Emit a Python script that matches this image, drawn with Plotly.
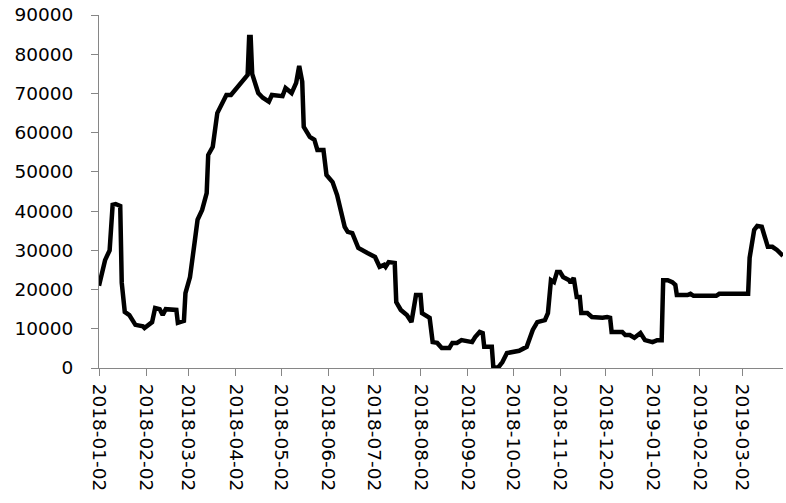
import plotly.graph_objects as go

dates = [
    "2018-01-02", "2018-01-06", "2018-01-09", "2018-01-11", "2018-01-13", "2018-01-16",
    "2018-01-17", "2018-01-19", "2018-01-22", "2018-01-26", "2018-01-31", "2018-02-01",
    "2018-02-06", "2018-02-08", "2018-02-11", "2018-02-13", "2018-02-15", "2018-02-22",
    "2018-02-23", "2018-02-27", "2018-02-28", "2018-03-03", "2018-03-06", "2018-03-08",
    "2018-03-11", "2018-03-14", "2018-03-15", "2018-03-18", "2018-03-21", "2018-03-24",
    "2018-03-27", "2018-03-30", "2018-04-03", "2018-04-08", "2018-04-10", "2018-04-11",
    "2018-04-12", "2018-04-13", "2018-04-15", "2018-04-17", "2018-04-20", "2018-04-24",
    "2018-04-26", "2018-05-03", "2018-05-05", "2018-05-09", "2018-05-12", "2018-05-14",
    "2018-05-16", "2018-05-17", "2018-05-21", "2018-05-24", "2018-05-26", "2018-05-30",
    "2018-06-01", "2018-06-05", "2018-06-08", "2018-06-10", "2018-06-13", "2018-06-15",
    "2018-06-18", "2018-06-22", "2018-06-25", "2018-06-28", "2018-07-03", "2018-07-06",
    "2018-07-09", "2018-07-10", "2018-07-12", "2018-07-16", "2018-07-17", "2018-07-20",
    "2018-07-24", "2018-07-27", "2018-07-30", "2018-08-02", "2018-08-03", "2018-08-08",
    "2018-08-10", "2018-08-13", "2018-08-16", "2018-08-21", "2018-08-23", "2018-08-26",
    "2018-08-29", "2018-09-05", "2018-09-07", "2018-09-10", "2018-09-12", "2018-09-13",
    "2018-09-18", "2018-09-19", "2018-09-22", "2018-09-25", "2018-09-28", "2018-10-06",
    "2018-10-11", "2018-10-15", "2018-10-18", "2018-10-23", "2018-10-25", "2018-10-27",
    "2018-10-29", "2018-10-31", "2018-11-02", "2018-11-04", "2018-11-08", "2018-11-09",
    "2018-11-11", "2018-11-13", "2018-11-15", "2018-11-16", "2018-11-20", "2018-11-23",
    "2018-11-30", "2018-12-03", "2018-12-05", "2018-12-06", "2018-12-13", "2018-12-15",
    "2018-12-18", "2018-12-21", "2018-12-25", "2018-12-28", "2019-01-02", "2019-01-05",
    "2019-01-08", "2019-01-09", "2019-01-12", "2019-01-15", "2019-01-17", "2019-01-18",
    "2019-01-25", "2019-01-27", "2019-01-29", "2019-02-13", "2019-02-15", "2019-03-06",
    "2019-03-07", "2019-03-10", "2019-03-12", "2019-03-15", "2019-03-19", "2019-03-22",
    "2019-03-25", "2019-03-29",
]
values = [
    21000, 27500, 30000, 41600, 41800, 41300,
    21700, 14300, 13500, 11000, 10600, 10200,
    11700, 15300, 15000, 13500, 15000, 14800,
    11500, 12000, 19100, 23200, 31900, 37800,
    40300, 44600, 54300, 56400, 65000, 67600,
    69600, 69600, 71400, 74000, 74700, 84400,
    84400, 75000, 72700, 70100, 68900, 67900,
    69600, 69300, 71400, 70100, 72700, 77000,
    73000, 61500, 58900, 58200, 55600, 55600,
    49200, 47400, 44100, 41100, 36000, 34700,
    34400, 30600, 30100, 29300, 28300, 25800,
    26300, 25800, 27000, 26800, 16800, 14800,
    13500, 11700, 18600, 18600, 14000, 12800,
    6600, 6400, 5100, 5100, 6400, 6400,
    7100, 6600, 7900, 9200, 8900, 5400,
    5400, 300, 0, 1500, 3800, 4400,
    5400, 9700, 11700, 12200, 14000, 22400,
    21900, 24500, 24500, 23200, 22400, 21700,
    23000, 18100, 18100, 14000, 14000, 13000,
    12800, 13000, 12800, 9200, 9200, 8400,
    8400, 7700, 8900, 7100, 6600, 7100,
    7100, 22400, 22400, 21900, 21200, 18600,
    18600, 18900, 18400, 18400, 18900, 18900,
    28100, 35200, 36200, 36000, 30900, 30900,
    30100, 28600,
]

x_range = ["2018-01-02", "2019-03-29"]
y_ticks = [0, 10000, 20000, 30000, 40000, 50000, 60000, 70000, 80000, 90000]

fig = go.Figure(
    go.Scatter(
        x=dates, y=values, mode="lines",
        line=dict(color="#000000", width=4.5),
        hoverinfo="x+y",
    )
)

axis_grey = "#868686"
font = dict(family="DejaVu Sans", size=18.5, color="#000000")

fig.update_layout(
    width=786, height=503,
    margin=dict(l=99, r=3, t=15, b=135, autoexpand=False),
    paper_bgcolor="white", plot_bgcolor="white",
    showlegend=False,
    font=font,
)
fig.update_xaxes(
    type="date", range=x_range, automargin=False,
    tick0="2018-01-02", dtick="M1", tickformat="%Y-%m-%d",
    tickangle=90, ticks="outside", ticklen=7, tickcolor=axis_grey,
    showline=True, linecolor=axis_grey, linewidth=1,
    showgrid=False, zeroline=False, tickfont=font,
    ticklabelstandoff=4, ticklabeloverflow="allow",
)
fig.update_yaxes(
    range=[0, 90000], tickvals=y_ticks, ticktext=[str(v) for v in y_ticks],
    automargin=False,
    ticks="outside", ticklen=7, tickcolor=axis_grey,
    showline=True, linecolor=axis_grey, linewidth=1,
    showgrid=False, zeroline=False, tickfont=font,
    ticklabelstandoff=14, ticklabeloverflow="allow",
)

fig.write_html(
    "out.html",
    config={"displayModeBar": False},
    post_script="document.body.style.margin='0';document.body.style.overflow='hidden';",
)
